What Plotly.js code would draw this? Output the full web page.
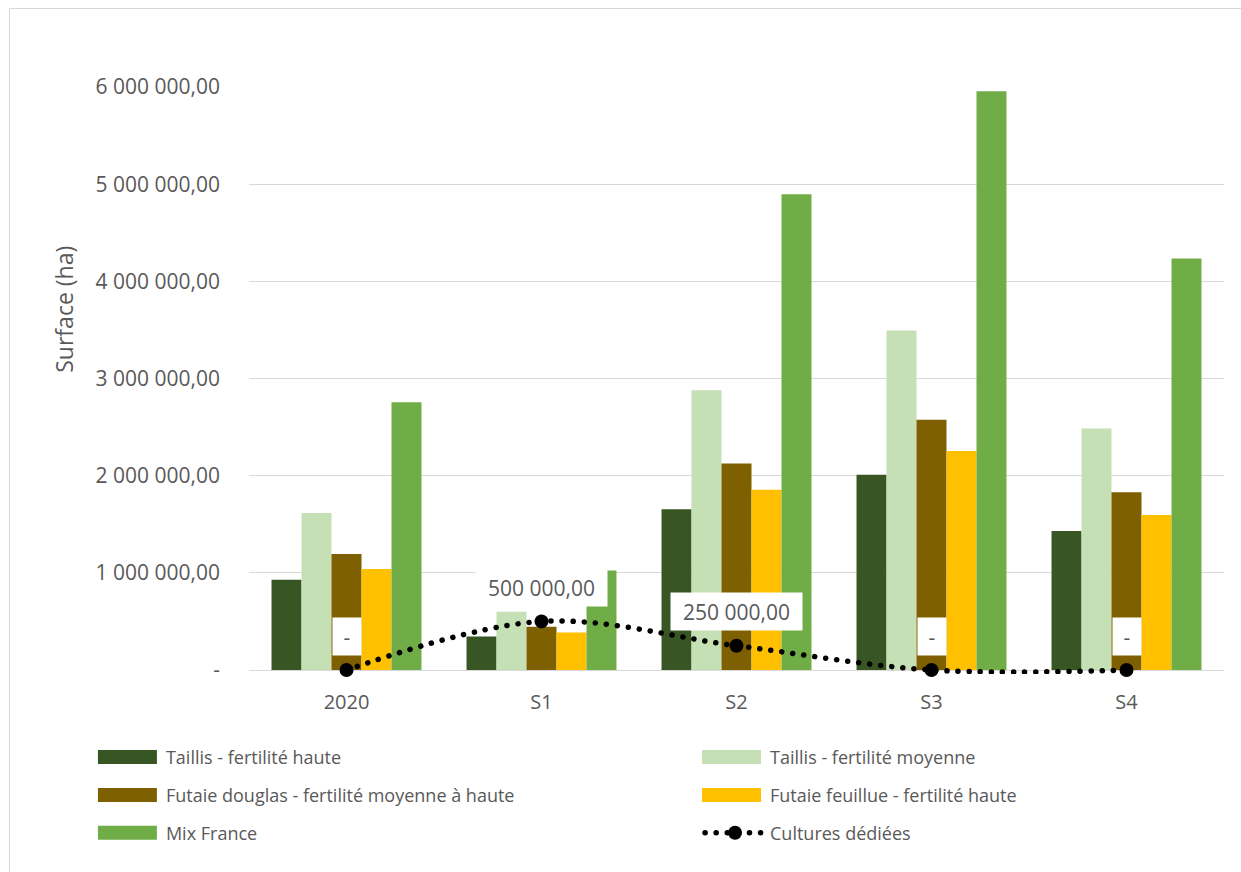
<!DOCTYPE html>
<html>
<head>
<meta charset="utf-8">
<script src="https://cdn.plot.ly/plotly-3.0.1.min.js"></script>
<style>
  html, body { margin: 0; padding: 0; background: #fff; }
  #wrap { position: relative; width: 1241px; height: 872px; overflow: hidden; }
  #chart { width: 1241px; height: 872px; }
  #frame { position: absolute; left: 9px; top: 8px; width: 1400px; height: 1000px;
           border-top: 1.5px solid #d9d9d9; border-left: 1.5px solid #d9d9d9; pointer-events: none; }
  .js-line { stroke-linecap: round; }
</style>
</head>
<body>
<div id="wrap"><div id="chart"></div><div id="frame"></div></div>
<script>
const categories = ['2020', 'S1', 'S2', 'S3', 'S4'];
const taillisHaute   = [930000, 345000, 1655000, 2010000, 1430000];
const taillisMoyenne = [1615000, 600000, 2880000, 3495000, 2485000];
const futaieDouglas  = [1195000, 445000, 2125000, 2575000, 1830000];
const futaieFeuillue = [1040000, 385000, 1855000, 2255000, 1595000];
const mixFrance      = [2755000, 1025000, 4895000, 5955000, 4235000];
const culturesDediees = [0, 500000, 250000, 0, 0];
const tickValues = [0, 1000000, 2000000, 3000000, 4000000, 5000000, 6000000];
const tickLabels = ['-', '1 000 000,00', '2 000 000,00', '3 000 000,00', '4 000 000,00', '5 000 000,00', '6 000 000,00'];
const yTitle = 'Surface (ha)';

const FONT = '"Open Sans", "Noto Sans", sans-serif';
const TXT = '#595959';

function fmt(v) {
  if (v === 0) return '-';
  const parts = v.toFixed(2).split('.');
  return parts[0].replace(/\B(?=(\d{3})+(?!\d))/g, ' ') + ',' + parts[1];
}

const barSeries = [
  {name: 'Taillis - fertilité haute', y: taillisHaute, color: '#375623', legend: 'legend'},
  {name: 'Taillis - fertilité moyenne', y: taillisMoyenne, color: '#C5E0B4', legend: 'legend2'},
  {name: 'Futaie douglas - fertilité moyenne à haute', y: futaieDouglas, color: '#7F6000', legend: 'legend'},
  {name: 'Futaie feuillue - fertilité haute', y: futaieFeuillue, color: '#FFC000', legend: 'legend2'},
  {name: 'Mix France', y: mixFrance, color: '#70AD47', legend: 'legend'}
];

const traces = barSeries.map((s, i) => ({
  type: 'bar', name: s.name, x: categories, y: s.y,
  marker: {color: s.color, line: {width: 0}},
  legend: s.legend, legendgroup: 'g' + i, hoverinfo: 'skip'
}));

traces.push({
  type: 'scatter', mode: 'lines+markers', name: 'Cultures dédiées',
  x: categories, y: culturesDediees, cliponaxis: false,
  line: {color: '#000', width: 5.5, shape: 'spline', smoothing: 1, dash: '0.1px,11px'},
  marker: {color: '#000', size: 14},
  legend: 'legend2', legendgroup: 'g5', hoverinfo: 'skip'
});

const annotations = categories.map((c, i) => {
  const t = fmt(culturesDediees[i]);
  return {
    x: i, y: culturesDediees[i], xref: 'x', yref: 'y',
    text: t, showarrow: false, yshift: 34,
    bgcolor: '#ffffff', borderpad: 2,
    width: t === '-' ? 24 : 127, height: 33,
    font: {family: FONT, size: 21, color: TXT}
  };
});
annotations.push({
  xref: 'paper', yref: 'paper', x: -0.19, y: 0.6218,
  xanchor: 'center', yanchor: 'middle', textangle: -90,
  text: yTitle, showarrow: false,
  font: {family: FONT, size: 23, color: TXT}
});

const legendCommon = {
  orientation: 'v', xanchor: 'left', yanchor: 'top',
  font: {family: FONT, size: 18, color: TXT},
  itemwidth: 60, tracegroupgap: 11.5, bgcolor: 'rgba(0,0,0,0)',
  itemclick: false, itemdoubleclick: false
};

const layout = {
  width: 1241, height: 872,
  margin: {l: 249, r: 17, t: 87, b: 198},
  paper_bgcolor: '#fff', plot_bgcolor: '#fff',
  font: {family: FONT, color: TXT},
  barmode: 'group', bargap: 0.231, bargroupgap: 0,
  showlegend: true,
  xaxis: {
    type: 'category', range: [-0.5, 4.5], autorange: false,
    showgrid: false, zeroline: false, showline: false,
    ticks: '', ticklabelstandoff: 14,
    tickfont: {family: FONT, size: 20, color: TXT}
  },
  yaxis: {
    range: [-41170, 6000000], autorange: false, tickvals: tickValues, ticktext: tickLabels,
    showgrid: true, gridcolor: '#d9d9d9', gridwidth: 1,
    zeroline: true, zerolinecolor: '#d9d9d9', zerolinewidth: 1,
    showline: false, ticks: '', ticklabelstandoff: 28,
    tickfont: {family: FONT, size: 21, color: TXT}
  },
  legend: Object.assign({}, legendCommon, {x: -0.157, y: -0.1104}),
  legend2: Object.assign({}, legendCommon, {x: 0.4626, y: -0.1104}),
  annotations: annotations
};

Plotly.newPlot('chart', traces, layout, {displayModeBar: false, staticPlot: true}).then(() => {
  document.querySelectorAll('.legendpoints path').forEach(p => {
    const d = (p.getAttribute('d') || '').replace(/\s/g, '');
    if (d === 'M6,6H-6V-6H6Z') p.setAttribute('d', 'M26,7H-33V-7H26Z');
  });
});
</script>
</body>
</html>
